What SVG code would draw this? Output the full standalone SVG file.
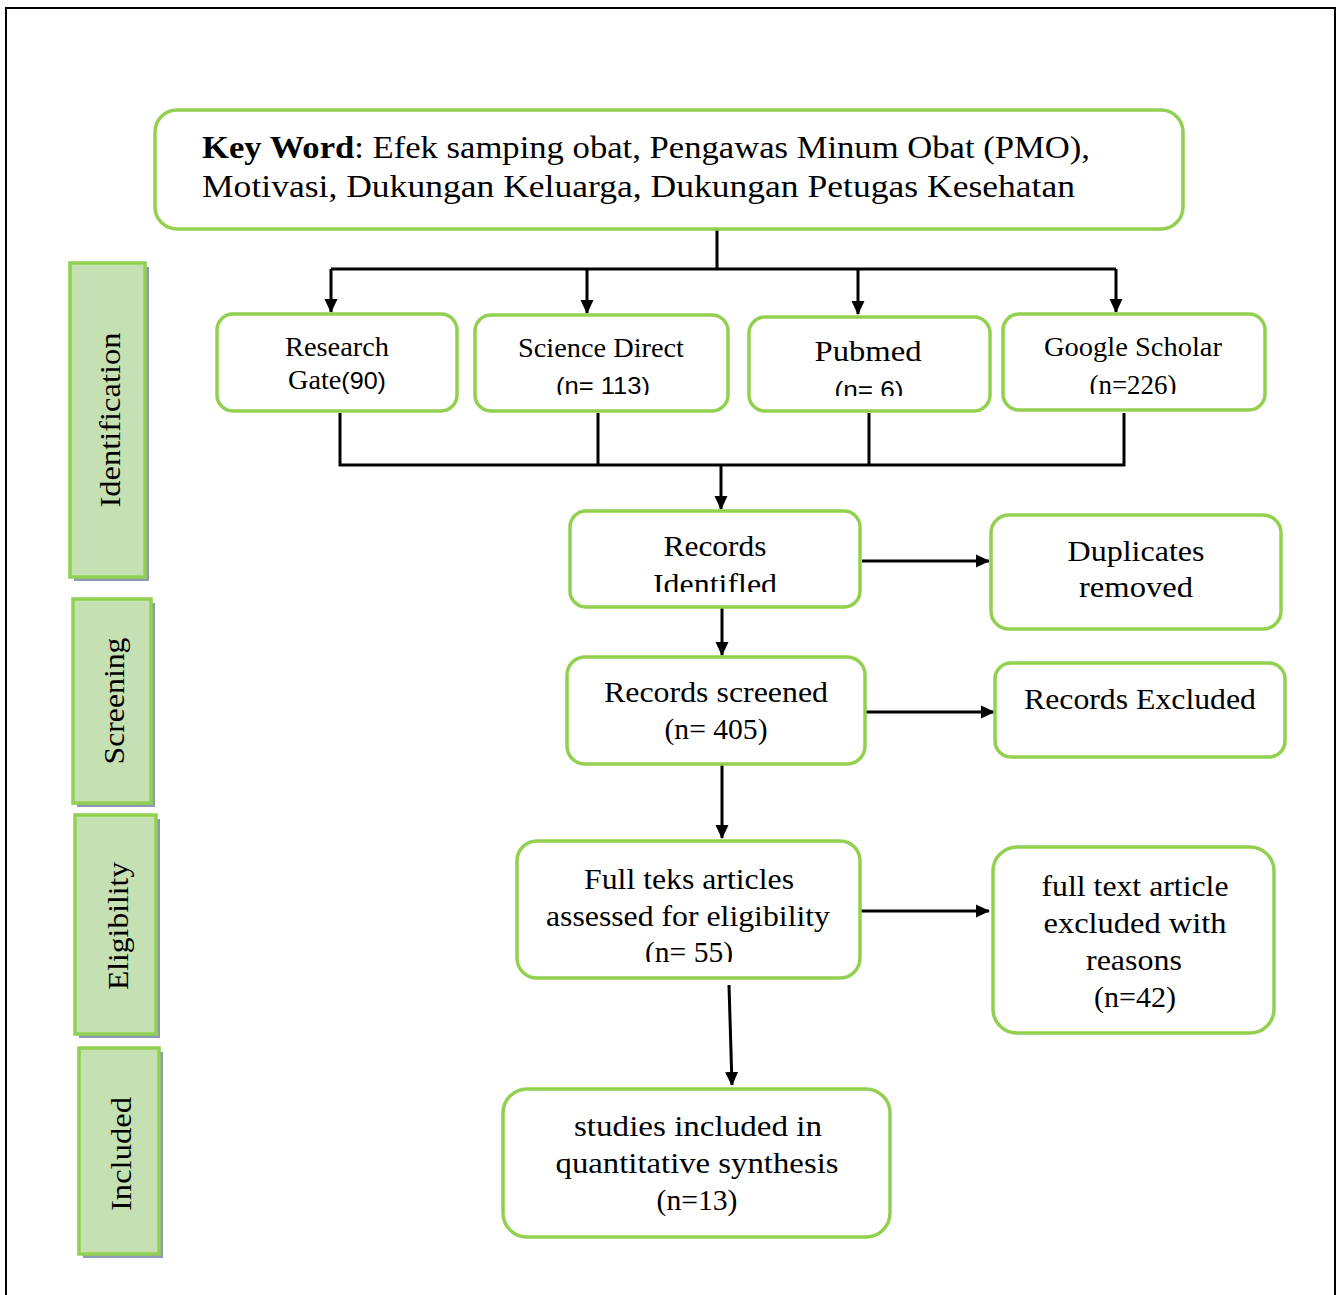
<svg xmlns="http://www.w3.org/2000/svg" width="1341" height="1295" viewBox="0 0 1341 1295">
<style>
.box{fill:#fff;stroke:#92D050;stroke-width:3.5}
.side{fill:#C5E0B3;stroke:#92D050;stroke-width:3.5}
.shadow{fill:#8E9AB4}
.t{font-family:"Liberation Serif","DejaVu Serif",serif;fill:#000;text-anchor:middle}
.s{font-family:"Liberation Sans","DejaVu Sans",sans-serif}
.ln{stroke:#000;stroke-width:3;fill:none}
</style>
<defs>
<marker id="ah" markerUnits="userSpaceOnUse" markerWidth="14" markerHeight="15" viewBox="0 0 15 14" refX="14" refY="7" orient="auto">
<path d="M0,0 L15,7 L0,14 Z" fill="#000"/>
</marker>
<clipPath id="c1"><rect x="475" y="315" width="253" height="80"/></clipPath>
<clipPath id="c2"><rect x="749" y="317" width="241" height="79"/></clipPath>
<clipPath id="c3"><rect x="1003" y="314" width="262" height="80"/></clipPath>
<clipPath id="c4"><rect x="570" y="511" width="290" height="81"/></clipPath>
<clipPath id="c5"><rect x="517" y="841" width="343" height="121"/></clipPath>
</defs>
<rect x="6" y="8" width="1329" height="1300" fill="none" stroke="#000" stroke-width="2"/>

<g id="connectors">
<path class="ln" d="M717,229 V269 M331,269 H1116"/>
<path class="ln" d="M331,269 V312" marker-end="url(#ah)"/>
<path class="ln" d="M587,269 V313" marker-end="url(#ah)"/>
<path class="ln" d="M858,269 V314" marker-end="url(#ah)"/>
<path class="ln" d="M1116,269 V312" marker-end="url(#ah)"/>
<path class="ln" d="M340,413 V465 M598,413 V465 M869,413 V465 M1124,413 V465 M338.5,465 H1125.5"/>
<path class="ln" d="M721,465 V509" marker-end="url(#ah)"/>
<path class="ln" d="M862,561 H989" marker-end="url(#ah)"/>
<path class="ln" d="M722,608 V655" marker-end="url(#ah)"/>
<path class="ln" d="M866,712 H994" marker-end="url(#ah)"/>
<path class="ln" d="M722,765 V838" marker-end="url(#ah)"/>
<path class="ln" d="M861,911 H989" marker-end="url(#ah)"/>
<path class="ln" d="M729,985 L732,1085" marker-end="url(#ah)"/>
</g>

<g id="keyword">
<rect class="box" x="155" y="110" width="1028" height="119" rx="22"/>
<text class="t" style="text-anchor:start" font-size="32" x="202" y="158" textLength="888" lengthAdjust="spacingAndGlyphs"><tspan font-weight="bold">Key Word</tspan>: Efek samping obat, Pengawas Minum Obat (PMO),</text>
<text class="t" style="text-anchor:start" font-size="32" x="202" y="197" textLength="873" lengthAdjust="spacingAndGlyphs">Motivasi, Dukungan Keluarga, Dukungan Petugas Kesehatan</text>
</g>

<g id="researchgate">
<rect class="box" x="217" y="314" width="240" height="97" rx="16"/>
<text class="t" font-size="27" x="337" y="356" textLength="104" lengthAdjust="spacingAndGlyphs">Research</text>
<text class="t" font-size="27" x="337" y="389" textLength="98" lengthAdjust="spacingAndGlyphs">Gate<tspan class="s" font-size="24">(90)</tspan></text>
</g>

<g id="sciencedirect">
<rect class="box" x="475" y="315" width="253" height="96" rx="16"/>
<text class="t" font-size="27" x="601" y="357" textLength="166" lengthAdjust="spacingAndGlyphs">Science Direct</text>
<text class="t s" font-size="24" x="603" y="394" textLength="94" lengthAdjust="spacingAndGlyphs" clip-path="url(#c1)">(n= 113)</text>
</g>

<g id="pubmed">
<rect class="box" x="749" y="317" width="241" height="94" rx="16"/>
<text class="t" font-size="30" x="868" y="361" textLength="107" lengthAdjust="spacingAndGlyphs">Pubmed</text>
<text class="t s" font-size="24" x="869" y="398" textLength="69" lengthAdjust="spacingAndGlyphs" clip-path="url(#c2)">(n= 6)</text>
</g>

<g id="googlescholar">
<rect class="box" x="1003" y="314" width="262" height="96" rx="16"/>
<text class="t" font-size="27" x="1133" y="356" textLength="178" lengthAdjust="spacingAndGlyphs">Google Scholar</text>
<text class="t" font-size="27" x="1133" y="394" textLength="87" lengthAdjust="spacingAndGlyphs" clip-path="url(#c3)">(n=226)</text>
</g>

<g id="recordsidentified">
<rect class="box" x="570" y="511" width="290" height="96" rx="16"/>
<text class="t" font-size="30" x="715" y="556" textLength="103" lengthAdjust="spacingAndGlyphs">Records</text>
<text class="t" font-size="30" x="715" y="594" textLength="124" lengthAdjust="spacingAndGlyphs" clip-path="url(#c4)">Identifled</text>
</g>

<g id="duplicates">
<rect class="box" x="991" y="515" width="290" height="114" rx="18"/>
<text class="t" font-size="30" x="1136" y="561" textLength="137" lengthAdjust="spacingAndGlyphs">Duplicates</text>
<text class="t" font-size="30" x="1136" y="597" textLength="114" lengthAdjust="spacingAndGlyphs">removed</text>
</g>

<g id="recordsscreened">
<rect class="box" x="567" y="657" width="298" height="107" rx="18"/>
<text class="t" font-size="30" x="716" y="702" textLength="224" lengthAdjust="spacingAndGlyphs">Records screened</text>
<text class="t" font-size="30" x="716" y="739" textLength="103" lengthAdjust="spacingAndGlyphs">(n= 405)</text>
</g>

<g id="recordsexcluded">
<rect class="box" x="995" y="663" width="290" height="94" rx="16"/>
<text class="t" font-size="30" x="1140" y="709" textLength="232" lengthAdjust="spacingAndGlyphs">Records Excluded</text>
</g>

<g id="fullteks">
<rect class="box" x="517" y="841" width="343" height="137" rx="20"/>
<text class="t" font-size="30" x="689" y="889" textLength="210" lengthAdjust="spacingAndGlyphs">Full teks articles</text>
<text class="t" font-size="30" x="688" y="926" textLength="284" lengthAdjust="spacingAndGlyphs">assessed for eligibility</text>
<text class="t" font-size="30" x="689" y="962" textLength="88" lengthAdjust="spacingAndGlyphs" clip-path="url(#c5)">(n= 55)</text>
</g>

<g id="fulltextexcluded">
<rect class="box" x="993" y="847" width="281" height="186" rx="24"/>
<text class="t" font-size="30" x="1135" y="896" textLength="187" lengthAdjust="spacingAndGlyphs">full text article</text>
<text class="t" font-size="30" x="1135" y="933" textLength="183" lengthAdjust="spacingAndGlyphs">excluded with</text>
<text class="t" font-size="30" x="1134" y="970" textLength="96" lengthAdjust="spacingAndGlyphs">reasons</text>
<text class="t" font-size="30" x="1135" y="1007" textLength="82" lengthAdjust="spacingAndGlyphs">(n=42)</text>
</g>

<g id="studiesincluded">
<rect class="box" x="503" y="1089" width="387" height="148" rx="24"/>
<text class="t" font-size="30" x="698" y="1136" textLength="248" lengthAdjust="spacingAndGlyphs">studies included in</text>
<text class="t" font-size="30" x="697" y="1173" textLength="283" lengthAdjust="spacingAndGlyphs">quantitative synthesis</text>
<text class="t" font-size="30" x="697" y="1210" textLength="81" lengthAdjust="spacingAndGlyphs">(n=13)</text>
</g>

<g id="identification">
<rect class="shadow" x="74" y="267" width="75" height="314"/>
<rect class="side" x="70" y="263" width="75" height="314"/>
<text class="t" font-size="30" transform="translate(120,420) rotate(-90)" textLength="175" lengthAdjust="spacingAndGlyphs">Identification</text>
</g>

<g id="screening">
<rect class="shadow" x="77" y="603" width="78" height="204"/>
<rect class="side" x="73" y="599" width="78" height="204"/>
<text class="t" font-size="30" transform="translate(124,701) rotate(-90)" textLength="127" lengthAdjust="spacingAndGlyphs">Screening</text>
</g>

<g id="eligibility">
<rect class="shadow" x="79" y="819" width="81" height="219"/>
<rect class="side" x="75" y="815" width="81" height="219"/>
<text class="t" font-size="30" transform="translate(128,926) rotate(-90)" textLength="128" lengthAdjust="spacingAndGlyphs">Eligibility</text>
</g>

<g id="included">
<rect class="shadow" x="83" y="1052" width="80" height="206"/>
<rect class="side" x="79" y="1048" width="80" height="206"/>
<text class="t" font-size="30" transform="translate(131,1154) rotate(-90)" textLength="114" lengthAdjust="spacingAndGlyphs">Included</text>
</g>
</svg>
